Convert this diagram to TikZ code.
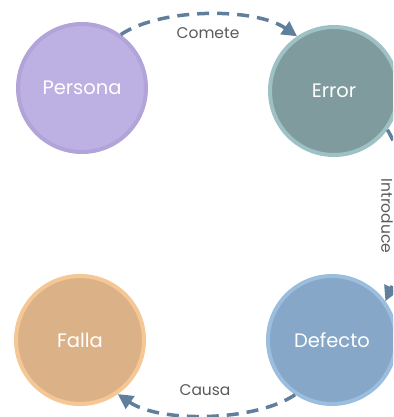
\documentclass[tikz,border=0pt]{standalone}
\usepackage{fontspec}
\setmainfont{Poppins}
\usetikzlibrary{arrows.meta}
\definecolor{flow}{HTML}{5F7F9C}
\definecolor{lbl}{HTML}{5A5A5A}
\definecolor{perFill}{HTML}{BDB0E3}\definecolor{perLine}{HTML}{B2A4D8}
\definecolor{errFill}{HTML}{809B9D}\definecolor{errLine}{HTML}{9DC1C4}
\definecolor{defFill}{HTML}{86A7C7}\definecolor{defLine}{HTML}{9BBEDF}
\definecolor{falFill}{HTML}{DBB287}\definecolor{falLine}{HTML}{F5C794}
\tikzset{
  stage/.style={circle, minimum size=128pt, inner sep=0pt, line width=4pt,
    text=white, font=\fontsize{19.5}{22}\selectfont},
  link/.style={draw=flow, line width=3.5pt, dash pattern=on 12pt off 8pt,
    -{Triangle[length=15pt,width=15pt]}},
  linklabel/.style={text=lbl, font=\fontsize{15.5}{18}\selectfont}
}
\begin{document}
\begin{tikzpicture}[x=1pt,y=-1pt]
  \clip (0,0) rectangle (393,417);
  \useasboundingbox (0,0) rectangle (393,417);
  \node[stage, fill=perFill, draw=perLine] (per) at (82,88) {Persona};
  \node[stage, fill=errFill, draw=errLine] (err) at (334,91) {Error};
  \node[stage, fill=defFill, draw=defLine] (def) at (332,340) {Defecto};
  \node[stage, fill=falFill, draw=falLine] (fal) at (80,340) {Falla};

  \draw[link] (per.54) .. controls +(40,-27) and +(-42,-29) .. (err.124);
  \draw[link] (err.-36) .. controls +(25,40) and +(20,-45) .. (def.36);
  \draw[link] (def.-124) .. controls +(-40,27) and +(42,29) .. (fal.-55);

  \node[linklabel] (lc) at (208,33) {Comete};
  \node[linklabel, rotate=-90] (li) at (387,216) {Introduce};
  \node[linklabel] (la) at (205,390) {Causa};
\end{tikzpicture}
\end{document}
